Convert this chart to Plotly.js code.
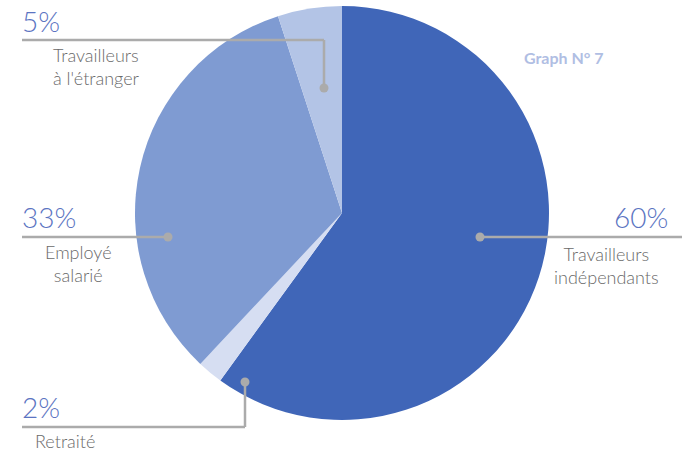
<!DOCTYPE html>
<html><head><meta charset="utf-8">
<script src="https://cdn.plot.ly/plotly-3.0.1.min.js"></script>
<style>html,body{margin:0;padding:0;background:#fff}#chart{width:688px;height:452px}</style>
</head><body><div id="chart"></div>
<script>
const categories = ["Travailleurs indépendants", "Retraité", "Employé salarié", "Travailleurs à l'étranger"];
const values = [60, 2, 33, 5];
const pctLabels = ["60%", "2%", "33%", "5%"];
const nameLabels = ["Travailleurs<br>indépendants", "Retraité", "Employé<br>salarié", "Travailleurs<br>à l'étranger"];
const colors = ["#4066B8", "#D6DEF2", "#7F9BD2", "#B3C4E6"];

const W = 688, H = 452;
const px = x => x / W;
const py = y => 1 - y / H;
const cx = 342, cy = 213, R = 207;

const pie = {
  type: "pie", values: values, labels: categories, sort: false, direction: "clockwise",
  rotation: 0, textinfo: "none", hoverinfo: "label+percent",
  marker: {colors: colors, line: {width: 0}},
  domain: {x: [px(cx - R), px(cx + R)], y: [py(cy + R), py(cy - R)]},
  showlegend: false
};

const lineCol = "#ABABAB";
const shapes = [];
function seg(x0, y0, x1, y1) {
  shapes.push({type: "line", xref: "paper", yref: "paper", x0: px(x0), y0: py(y0), x1: px(x1), y1: py(y1), line: {color: lineCol, width: 2.5}});
}
function dot(x, y) {
  const r = 4.5;
  shapes.push({type: "circle", xref: "paper", yref: "paper", x0: px(x - r), y0: py(y + r), x1: px(x + r), y1: py(y - r), fillcolor: lineCol, line: {width: 0}});
}
// 5%
seg(22, 40, 324, 40); seg(324, 40, 324, 88); dot(324, 88);
// 33%
seg(22, 237, 168, 237); dot(168, 237);
// 60%
seg(480, 237, 682, 237); dot(480, 237);
// 2%
seg(22, 427, 245, 427); seg(245, 427, 245, 382); dot(245, 382);

const fam = "Lato, 'Open Sans', sans-serif";
const pctFont = {family: fam, size: 28, weight: 300, color: "#5B74C2"};
const lblFont = {family: fam, size: 18, weight: 300, color: "#6A6A6A"};
function ann(text, x, y, xa, ya, font, align) {
  return {text: text, x: px(x), y: py(y), xref: "paper", yref: "paper", xanchor: xa, yanchor: ya,
    showarrow: false, font: font, align: align || "left"};
}
const annotations = [
  ann(pctLabels[3], 20, 40, "left", "bottom", pctFont),
  ann(nameLabels[3], 51, 42, "left", "top", lblFont, "left"),
  ann(pctLabels[2], 20, 236, "left", "bottom", pctFont),
  ann(nameLabels[2], 78, 239, "center", "top", lblFont, "center"),
  ann(pctLabels[0], 670, 236, "right", "bottom", pctFont),
  ann(nameLabels[0], 606, 241, "center", "top", lblFont, "center"),
  ann(pctLabels[1], 20, 426, "left", "bottom", pctFont),
  ann(nameLabels[1], 33, 428, "left", "top", lblFont, "left"),
  ann("<b>Graph N° 7</b>", 522, 57, "left", "middle", {family: fam, size: 16, color: "#B0BEE3"})
];

Plotly.newPlot("chart", [pie], {
  width: W, height: H, margin: {l: 0, r: 0, t: 0, b: 0},
  paper_bgcolor: "#fff", plot_bgcolor: "#fff",
  shapes: shapes, annotations: annotations
}, {displayModeBar: false, staticPlot: true});
</script></body></html>
